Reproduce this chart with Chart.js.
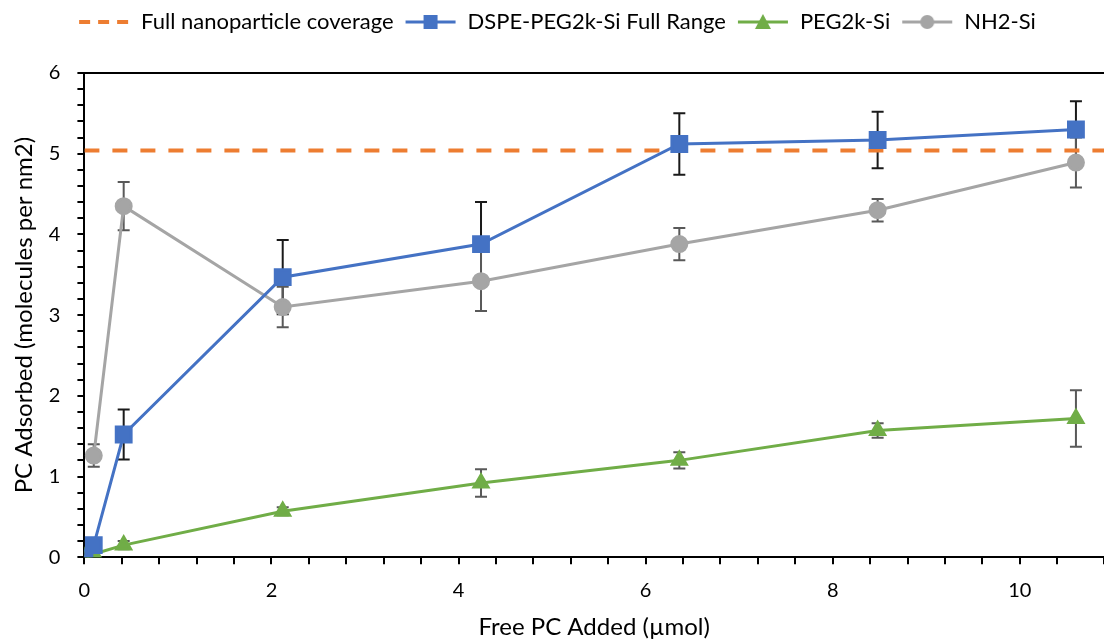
<!DOCTYPE html>
<html>
<head>
<meta charset="utf-8">
<script src="https://cdn.jsdelivr.net/npm/chart.js@4.4.1/dist/chart.umd.min.js"></script>
<style>
  html, body { margin: 0; padding: 0; background: #fff; }
  #wrap { width: 1104px; height: 639px; }
</style>
</head>
<body>
<div id="wrap"><canvas id="myChart" width="1104" height="639"></canvas></div>
<script>
// values
var coverage = 5.04;

var dspeX = [0, 0.1, 0.42, 2.12, 4.24, 6.36, 8.48, 10.6];
var dspeY = [0, 0.15, 1.52, 3.47, 3.88, 5.12, 5.17, 5.30];
var dspeErr = [0, 0, 0.31, 0.46, 0.52, 0.38, 0.35, 0.35];

var pegX = [0, 0.1, 0.42, 2.12, 4.24, 6.36, 8.48, 10.6];
var pegY = [0, 0.04, 0.15, 0.57, 0.92, 1.20, 1.57, 1.72];
var pegErr = [0, 0, 0.05, 0.05, 0.17, 0.10, 0.09, 0.35];

var nh2X = [0.1, 0.42, 2.12, 4.24, 6.36, 8.48, 10.6];
var nh2Y = [1.26, 4.35, 3.10, 3.42, 3.88, 4.30, 4.89];
var nh2Err = [0.14, 0.30, 0.25, 0.37, 0.20, 0.14, 0.31];

var xMin = 0, xMax = 10.9;
var yMin = 0, yMax = 6;

var font = "Lato, 'Open Sans', sans-serif";

function pts(xs, ys) {
    return xs.map(function (x, i) { return {x: x, y: ys[i]}; });
}

// legend swatch: a short line with the marker in the middle
function swatch(color, marker, dashed) {
    var c = document.createElement('canvas');
    c.width = 52; c.height = 20;
    var g = c.getContext('2d');
    g.strokeStyle = color;
    g.fillStyle = color;
    g.lineWidth = dashed ? 4 : 3;
    if (dashed) g.setLineDash([11, 8]);
    g.beginPath(); g.moveTo(1, 10); g.lineTo(51, 10); g.stroke();
    g.setLineDash([]);
    if (marker === 'rect') g.fillRect(19, 3, 14, 14);
    if (marker === 'circle') { g.beginPath(); g.arc(26, 10, 7, 0, Math.PI * 2); g.fill(); }
    if (marker === 'triangle') { g.beginPath(); g.moveTo(26, 2); g.lineTo(34, 17); g.lineTo(18, 17); g.closePath(); g.fill(); }
    return c;
}

var errorBars = {
    id: 'errorBars',
    beforeDatasetsDraw: function (chart) {
        var ctx = chart.ctx;
        var ys = chart.scales.y;
        chart.data.datasets.forEach(function (ds, di) {
            if (!ds.errors) return;
            var meta = chart.getDatasetMeta(di);
            ctx.save();
            ctx.strokeStyle = ds.errorColor;
            ctx.lineWidth = 2;
            meta.data.forEach(function (p, i) {
                var e = ds.errors[i];
                if (!e) return;
                var v = ds.data[i].y;
                var top = ys.getPixelForValue(v + e);
                var bot = ys.getPixelForValue(v - e);
                ctx.beginPath();
                ctx.moveTo(p.x, top); ctx.lineTo(p.x, bot);
                ctx.moveTo(p.x - 6, top); ctx.lineTo(p.x + 6, top);
                ctx.moveTo(p.x - 6, bot); ctx.lineTo(p.x + 6, bot);
                ctx.stroke();
            });
            ctx.restore();
        });
    }
};

var topLine = {
    id: 'topLine',
    afterDraw: function (chart) {
        var a = chart.chartArea, ctx = chart.ctx;
        ctx.save();
        ctx.strokeStyle = '#000';
        ctx.lineWidth = 2;
        ctx.beginPath();
        ctx.moveTo(a.left, a.top); ctx.lineTo(a.right, a.top);
        ctx.stroke();
        ctx.restore();
    }
};

// leave room between the legend row and the plot
var legendGap = {
    id: 'legendGap',
    beforeInit: function (chart) {
        var fit = chart.legend.fit;
        chart.legend.fit = function () {
            fit.bind(chart.legend)();
            this.height = 73;
        };
    }
};

var swatches = [
    swatch('#ED7D31', null, true),
    swatch('#4472C4', 'rect'),
    swatch('#70AD47', 'triangle'),
    swatch('#A5A5A5', 'circle')
];

var context = document.getElementById('myChart').getContext('2d');

new Chart(context, {
    type: 'scatter',
    data: {
        datasets: [
            {
                label: 'Full nanoparticle coverage',
                data: pts([xMin, xMax], [coverage, coverage]),
                showLine: true,
                borderColor: '#ED7D31',
                borderWidth: 4,
                borderDash: [15, 13],
                pointRadius: 0,
                order: 4
            },
            {
                label: 'DSPE-PEG2k-Si Full Range',
                data: pts(dspeX, dspeY),
                errors: dspeErr,
                errorColor: '#1a1a1a',
                showLine: true,
                borderColor: '#4472C4',
                backgroundColor: '#4472C4',
                borderWidth: 3,
                pointStyle: 'rect',
                pointRadius: 10.5,
                order: 1
            },
            {
                label: 'PEG2k-Si',
                data: pts(pegX, pegY),
                errors: pegErr,
                errorColor: '#595959',
                showLine: true,
                borderColor: '#70AD47',
                backgroundColor: '#70AD47',
                borderWidth: 3,
                pointStyle: 'triangle',
                pointRadius: 8,
                order: 3
            },
            {
                label: 'NH2-Si',
                data: pts(nh2X, nh2Y),
                errors: nh2Err,
                errorColor: '#595959',
                showLine: true,
                borderColor: '#A5A5A5',
                backgroundColor: '#A5A5A5',
                borderWidth: 3,
                pointStyle: 'circle',
                pointRadius: 7.5,
                order: 2
            }
        ]
    },
    options: {
        responsive: false,
        animation: false,
        layout: {autoPadding: false, padding: {left: 10, right: 0, top: 0, bottom: -3}},
        plugins: {
            tooltip: {enabled: false},
            legend: {
                position: 'top',
                labels: {
                    usePointStyle: true,
                    pointStyleWidth: 52,
                    color: '#000',
                    padding: 11,
                    font: {family: font, size: 22},
                    generateLabels: function (chart) {
                        return chart.data.datasets.map(function (ds, i) {
                            return {
                                text: ds.label,
                                pointStyle: swatches[i],
                                fillStyle: ds.borderColor,
                                strokeStyle: ds.borderColor,
                                lineWidth: 0,
                                fontColor: '#000',
                                datasetIndex: i
                            };
                        });
                    }
                }
            }
        },
        scales: {
            x: {
                type: 'linear',
                min: xMin,
                max: xMax,
                afterFit: function (scale) {
                    scale.paddingLeft = 0;
                    scale.paddingRight = 0;
                },
                grid: {drawOnChartArea: false, color: '#000', tickLength: 7, lineWidth: 2},
                border: {color: '#000', width: 2},
                ticks: {
                    stepSize: 0.4,
                    autoSkip: false,
                    maxRotation: 0,
                    color: '#000',
                    padding: 14,
                    font: {family: font, size: 20},
                    callback: function (v) {
                        var r = Math.round(v);
                        return (Math.abs(v - r) < 1e-6 && r % 2 === 0) ? String(r) : '';
                    }
                },
                title: {
                    display: true,
                    text: 'Free PC Added (\u00b5mol)',
                    color: '#000',
                    font: {family: font, size: 24},
                    padding: {top: -3, bottom: 0}
                }
            },
            y: {
                type: 'linear',
                min: yMin,
                max: yMax,
                grid: {drawOnChartArea: false, color: '#000', tickLength: 7, lineWidth: 2},
                border: {color: '#000', width: 2},
                ticks: {
                    stepSize: 0.2,
                    autoSkip: false,
                    color: '#000',
                    padding: 17,
                    font: {family: font, size: 20},
                    callback: function (v) {
                        var r = Math.round(v);
                        return Math.abs(v - r) < 1e-6 ? String(r) : '';
                    }
                },
                title: {
                    display: true,
                    text: 'PC Adsorbed (molecules per nm2)',
                    color: '#000',
                    font: {family: font, size: 24},
                    padding: {top: 0, bottom: -7}
                }
            }
        }
    },
    plugins: [errorBars, topLine, legendGap]
});
</script>
</body>
</html>
